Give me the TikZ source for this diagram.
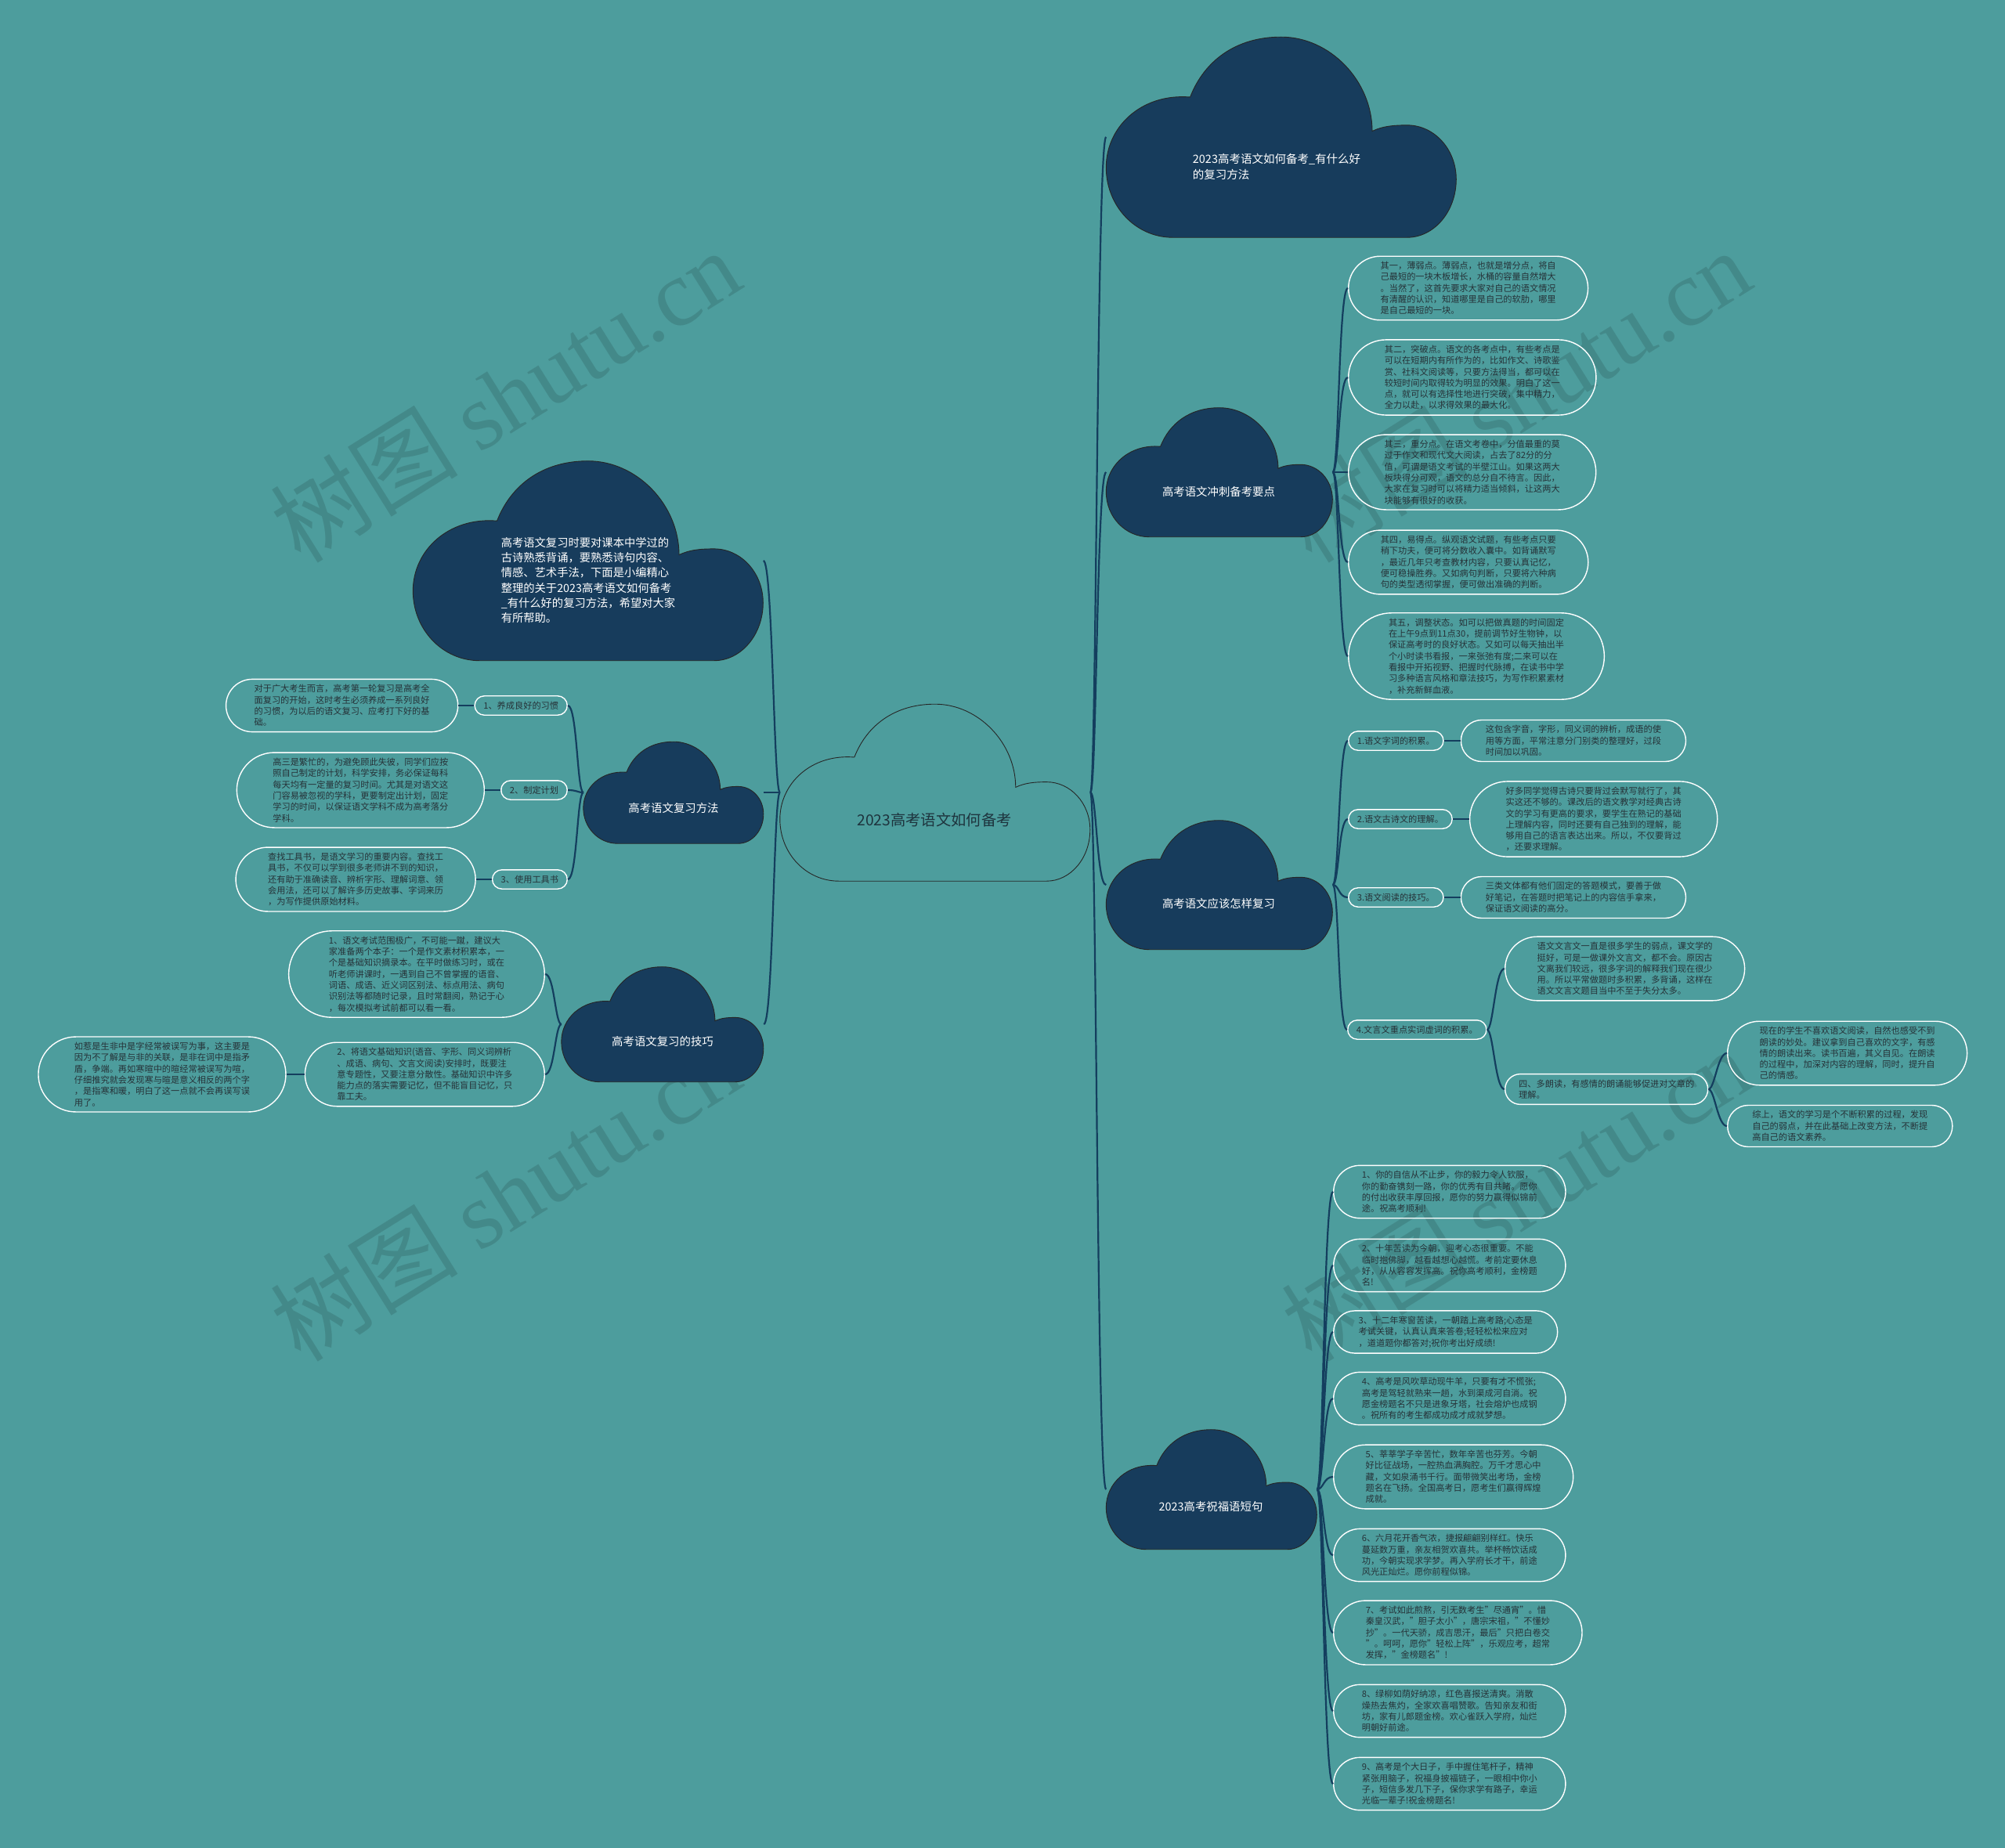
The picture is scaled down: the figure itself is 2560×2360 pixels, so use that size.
\documentclass[tikz,border=0pt]{standalone}
\usepackage{fontspec}
\setmainfont{Noto Sans CJK SC}
\newfontfamily\wmlatin{Liberation Serif}
\usepackage{tikz}
\usetikzlibrary{positioning, shapes.misc, calc}
\definecolor{bgteal}{RGB}{77,157,157}
\definecolor{cloudblue}{RGB}{23,60,92}
\definecolor{linkblue}{RGB}{20,62,94}
\definecolor{leaftext}{RGB}{38,50,56}
\definecolor{roottext}{RGB}{30,52,62}

% cloud outline drawn over an empty box node
\newcommand\drawcloud[5]{%
  \node[cloudbox, minimum width=#3, minimum height=#4] (#1) at #2 {};
  \begin{scope}[shift={(#1.south west)}, xscale=#3, yscale=#4]
    \path[#5] (0.19,0) .. controls (0.085,0) and (0,0.155) .. (0,0.35)
      .. controls (0,0.55) and (0.10,0.72) .. (0.24,0.70)
      .. controls (0.28,0.88) and (0.37,1) .. (0.50,1)
      .. controls (0.64,1) and (0.76,0.78) .. (0.76,0.53)
      .. controls (0.79,0.555) and (0.82,0.56) .. (0.86,0.56)
      .. controls (0.937,0.56) and (1,0.44) .. (1,0.29)
      .. controls (1,0.13) and (0.937,0) .. (0.86,0) -- cycle;
  \end{scope}}

\begin{document}
\begin{tikzpicture}[
        x=1pt, y=1pt,
        cloudbox/.style={rectangle, inner sep=0pt, draw=none},
        darkcloud/.style={fill=cloudblue, draw=black!85, line width=0.9pt},
        rootcloud/.style={draw=black!85, line width=0.9pt},
        cloudtxt/.style={text=white, align=left, inner sep=0pt, font=\fontsize{14.4}{19.2}\selectfont},
        roottxt/.style={text=roottext, inner sep=0pt, font=\fontsize{19.3}{23}\selectfont},
        leaf/.style={rounded rectangle, draw=white, line width=1.4pt, text=leaftext, inner xsep=#1, inner ysep=7pt, align=left, font=\fontsize{11.2}{14.3}\selectfont},
        leaf/.default=23pt,
        tag/.style={leaf=10pt},
        link/.style={draw=linkblue, line width=2.2pt},
        linkr/.style={link, out=0, in=180, out distance=8pt, in distance=12pt},
        linkl/.style={link, out=180, in=0, out distance=8pt, in distance=12pt},
        wmark/.style={text=black, opacity=0.12, rotate=32, font=\fontsize{120}{120}\selectfont},
    ]
    \useasboundingbox (0,0) rectangle (2560,-2360);
    \fill[bgteal] (0,0) rectangle (2560,-2360);

    % watermarks
    \foreach \wx in {645,1935}
        \foreach \wy in {-505,-1525}
            \node[wmark] at (\wx,\wy) {树图 {\wmlatin shutu.cn}};

    % clouds
    \drawcloud{c0}{(1194,-1012)}{396}{226}{rootcloud}
    \node[roottxt] (c0t) at (1193,-1047) {2023高考语文如何备考};

    \drawcloud{t1}{(1636,-175)}{447}{256}{darkcloud}
    \node[cloudtxt, font=\fontsize{14.5}{19.3}\selectfont] (t1t) at (1630,-213) {2023高考语文如何备考\_有什么好\\的复习方法};
    \drawcloud{r2}{(1557,-603)}{289}{165}{darkcloud}
    \node[cloudtxt] (r2t) at (1556,-628) {高考语文冲刺备考要点};
    \drawcloud{r3}{(1557,-1130)}{289}{165}{darkcloud}
    \node[cloudtxt] (r3t) at (1556,-1154) {高考语文应该怎样复习};
    \drawcloud{r4}{(1547,-1902)}{269}{153}{darkcloud}
    \node[cloudtxt] (r4t) at (1546,-1924) {2023高考祝福语短句};

    \drawcloud{l1}{(751,-716)}{447}{255}{darkcloud}
    \node[cloudtxt, font=\fontsize{14.3}{19.2}\selectfont] (l1t) at (751,-741) {高考语文复习时要对课本中学过的\\古诗熟悉背诵，要熟悉诗句内容、\\情感、艺术手法，下面是小编精心\\整理的关于2023高考语文如何备考\\\_有什么好的复习方法，希望对大家\\有所帮助。};
    \drawcloud{l2}{(860,-1012)}{230}{130}{darkcloud}
    \node[cloudtxt] (l2t) at (860,-1032) {高考语文复习方法};
    \drawcloud{l3}{(846,-1308)}{258}{147}{darkcloud}
    \node[cloudtxt] (l3t) at (846,-1330) {高考语文复习的技巧};

    % sprint points
    \node[leaf, anchor=west] (k1) at (1721,-368) {其一，薄弱点。薄弱点，也就是增分点，将自\\己最短的一块木板增长，水桶的容量自然增大\\。当然了，这首先要求大家对自己的语文情况\\有清醒的认识，知道哪里是自己的软肋，哪里\\是自己最短的一块。};
    \node[leaf, anchor=west] (k2) at (1721,-482) {其二，突破点。语文的各考点中，有些考点是\\可以在短期内有所作为的，比如作文、诗歌鉴\\赏、社科文阅读等，只要方法得当，都可以在\\较短时间内取得较为明显的效果。明白了这一\\点，就可以有选择性地进行突破，集中精力，\\全力以赴，以求得效果的最大化。};
    \node[leaf, anchor=west] (k3) at (1721,-603) {其三，重分点。在语文考卷中，分值最重的莫\\过于作文和现代文大阅读，占去了82分的分\\值，可谓是语文考试的半壁江山。如果这两大\\板块得分可观，语文的总分自不待言。因此，\\大家在复习时可以将精力适当倾斜，让这两大\\块能够有很好的收获。};
    \node[leaf, anchor=west] (k4) at (1721,-718) {其四，易得点。纵观语文试题，有些考点只要\\稍下功夫，便可将分数收入囊中。如背诵默写\\，最近几年只考查教材内容，只要认真记忆，\\便可稳操胜券。又如病句判断，只要将六种病\\句的类型透彻掌握，便可做出准确的判断。};
    \node[leaf, anchor=west] (k5) at (1721,-838) {其五，调整状态。如可以把做真题的时间固定\\在上午9点到11点30，提前调节好生物钟，以\\保证高考时的良好状态。又如可以每天抽出半\\个小时读书看报，一来张弛有度;二来可以在\\看报中开拓视野、把握时代脉搏，在读书中学\\习多种语言风格和章法技巧，为写作积累素材\\，补充新鲜血液。};

    % how to review
    \node[tag, anchor=west] (m1) at (1721,-946) {1.语文字词的积累。};
    \node[leaf, right=21pt of m1] (m1x) {这包含字音，字形，同义词的辨析，成语的使\\用等方面，平常注意分门别类的整理好，过段\\时间加以巩固。};
    \node[tag, anchor=west] (m2) at (1721,-1046) {2.语文古诗文的理解。};
    \node[leaf, right=21pt of m2] (m2x) {好多同学觉得古诗只要背过会默写就行了，其\\实这还不够的。课改后的语文教学对经典古诗\\文的学习有更高的要求，要学生在熟记的基础\\上理解内容，同时还要有自己独到的理解，能\\够用自己的语言表达出来。所以，不仅要背过\\，还要求理解。};
    \node[tag, anchor=west] (m3) at (1721,-1146) {3.语文阅读的技巧。};
    \node[leaf, right=21pt of m3] (m3x) {三类文体都有他们固定的答题模式，要善于做\\好笔记，在答题时把笔记上的内容信手拿来，\\保证语文阅读的高分。};
    \node[tag, anchor=west] (m4) at (1720,-1315) {4.文言文重点实词虚词的积累。};
    \node[leaf, anchor=west] (m4x) at (1921,-1237) {语文文言文一直是很多学生的弱点，课文学的\\挺好，可是一做课外文言文，都不会。原因古\\文离我们较远，很多字词的解释我们现在很少\\用。所以平常做题时多积累，多背诵，这样在\\语文文言文题目当中不至于失分太多。};
    \node[leaf=13pt, anchor=west] (m5) at (1921,-1391) {四、多朗读，有感情的朗诵能够促进对文章的\\理解。};
    \node[leaf, anchor=west] (m5a) at (2205,-1345) {现在的学生不喜欢语文阅读，自然也感受不到\\朗读的妙处。建议拿到自己喜欢的文字，有感\\情的朗读出来。读书百遍，其义自见。在朗读\\的过程中，加深对内容的理解，同时，提升自\\己的情感。};
    \node[leaf, anchor=west] (m5b) at (2205,-1438) {综上，语文的学习是个不断积累的过程，发现\\自己的弱点，并在此基础上改变方法，不断提\\高自己的语文素养。};

    % wishes
    \node[leaf, anchor=west] (b1) at (1702,-1522) {1、你的自信从不止步，你的毅力令人钦服，\\你的勤奋镌刻一路，你的优秀有目共睹。愿你\\的付出收获丰厚回报，愿你的努力赢得似锦前\\途。祝高考顺利!};
    \node[leaf, anchor=west] (b2) at (1702,-1616) {2、十年苦读为今朝，迎考心态很重要。不能\\临时抱佛脚，越看越想心越慌。考前定要休息\\好，从从容容发挥高。祝你高考顺利，金榜题\\名!};
    \node[leaf, anchor=west] (b3) at (1702,-1701) {3、十二年寒窗苦读，一朝踏上高考路;心态是\\考试关键，认真认真来答卷;轻轻松松来应对\\，道道题你都答对;祝你考出好成绩!};
    \node[leaf, anchor=west] (b4) at (1702,-1786) {4、高考是风吹草动现牛羊，只要有才不慌张;\\高考是驾轻就熟来一趟，水到渠成河自淌。祝\\愿金榜题名不只是进象牙塔，社会熔炉也成钢\\。祝所有的考生都成功成才成就梦想。};
    \node[leaf, anchor=west] (b5) at (1702,-1886) {5、莘莘学子辛苦忙，数年辛苦也芬芳。今朝\\好比征战场，一腔热血满胸腔。万千才思心中\\藏，文如泉涌书千行。面带微笑出考场，金榜\\题名在飞扬。全国高考日，愿考生们赢得辉煌\\成就。};
    \node[leaf, anchor=west] (b6) at (1702,-1986) {6、六月花开香气浓，捷报翩翩别样红。快乐\\蔓延数万重，亲友相贺欢喜共。举杯畅饮话成\\功，今朝实现求学梦。再入学府长才干，前途\\风光正灿烂。愿你前程似锦。};
    \node[leaf, anchor=west] (b7) at (1702,-2085) {7、考试如此煎熬，引无数考生"尽通宵"。惜\\秦皇汉武，"胆子太小"，唐宗宋祖，"不懂妙\\抄"。一代天骄，成吉思汗，最后"只把白卷交\\"。呵呵，愿你"轻松上阵"，乐观应考，超常\\发挥，"金榜题名"!};
    \node[leaf, anchor=west] (b8) at (1702,-2185) {8、绿柳如荫好纳凉，红色喜报送清爽。消散\\燥热去焦灼，全家欢喜唱赞歌。告知亲友和街\\坊，家有儿郎题金榜。欢心雀跃入学府，灿烂\\明朝好前途。};
    \node[leaf, anchor=west] (b9) at (1702,-2278) {9、高考是个大日子，手中握住笔杆子，精神\\紧张用脑子，祝福身披福链子，一眼相中你小\\子，短信多发几下子，保你求学有路子，幸运\\光临一辈子!祝金榜题名!};

    % review methods
    \node[tag, anchor=east] (p1) at (725,-901) {1、养成良好的习惯};
    \node[leaf, left=20pt of p1] (p1x) {对于广大考生而言，高考第一轮复习是高考全\\面复习的开始，这时考生必须养成一系列良好\\的习惯，为以后的语文复习、应考打下好的基\\础。};
    \node[tag, anchor=east] (p2) at (725,-1009) {2、制定计划};
    \node[leaf, left=20pt of p2] (p2x) {高三是繁忙的，为避免顾此失彼，同学们应按\\照自己制定的计划，科学安排，务必保证每科\\每天均有一定量的复习时间。尤其是对语文这\\门容易被忽视的学科，更要制定出计划，固定\\学习的时间，以保证语文学科不成为高考落分\\学科。};
    \node[tag, anchor=east] (p3) at (725,-1123) {3、使用工具书};
    \node[leaf, left=20pt of p3] (p3x) {查找工具书，是语文学习的重要内容。查找工\\具书，不仅可以学到很多老师讲不到的知识，\\还有助于准确读音、辨析字形、理解词意、领\\会用法，还可以了解许多历史故事、字词来历\\，为写作提供原始材料。};

    % review skills
    \node[leaf, anchor=east] (q1) at (696,-1244) {1、语文考试范围极广，不可能一蹴，建议大\\家准备两个本子：一个是作文素材积累本，一\\个是基础知识摘录本。在平时做练习时，或在\\听老师讲课时，一遇到自己不曾掌握的语音、\\词语、成语、近义词区别法、标点用法、病句\\识别法等都随时记录，且时常翻阅，熟记于心\\，每次模拟考试前都可以看一看。};
    \node[leaf, anchor=east] (q2) at (696,-1372) {2、将语文基础知识(语音、字形、同义词辨析\\、成语、病句、文言文阅读)安排时，既要注\\意专题性，又要注意分散性。基础知识中许多\\能力点的落实需要记忆，但不能盲目记忆，只\\靠工夫。};
    \node[leaf, left=23pt of q2] (q3) {如惹是生非中是字经常被误写为事，这主要是\\因为不了解是与非的关联，是非在词中是指矛\\盾，争端。再如寒暄中的暄经常被误写为喧，\\仔细推究就会发现寒与暄是意义相反的两个字\\，是指寒和暖，明白了这一点就不会再误写误\\用了。};

    % connectors
    \foreach \n in {t1,r2,r3,r4}
        \draw[linkr] (c0.east) to (\n.west);
    \foreach \n in {l1,l2,l3}
        \draw[linkl] (c0.west) to (\n.east);
    \foreach \n in {k1,k2,k3,k4,k5}
        \draw[linkr] (r2.east) to (\n.west);
    \foreach \n in {m1,m2,m3,m4}
        \draw[linkr] (r3.east) to (\n.west);
    \foreach \n in {1,2,3}
        \draw[linkr] (m\n.east) to (m\n x.west);
    \draw[linkr] (m4.east) to (m4x.west);
    \draw[linkr] (m4.east) to (m5.west);
    \draw[linkr] (m5.east) to (m5a.west);
    \draw[linkr] (m5.east) to (m5b.west);
    \foreach \n in {1,...,9}
        \draw[linkr] (r4.east) to (b\n.west);
    \foreach \n in {1,2,3} {
        \draw[linkl] (l2.west) to (p\n.east);
        \draw[linkl] (p\n.west) to (p\n x.east);
    }
    \draw[linkl] (l3.west) to (q1.east);
    \draw[linkl] (l3.west) to (q2.east);
    \draw[linkl] (q2.west) to (q3.east);
\end{tikzpicture}
\end{document}
